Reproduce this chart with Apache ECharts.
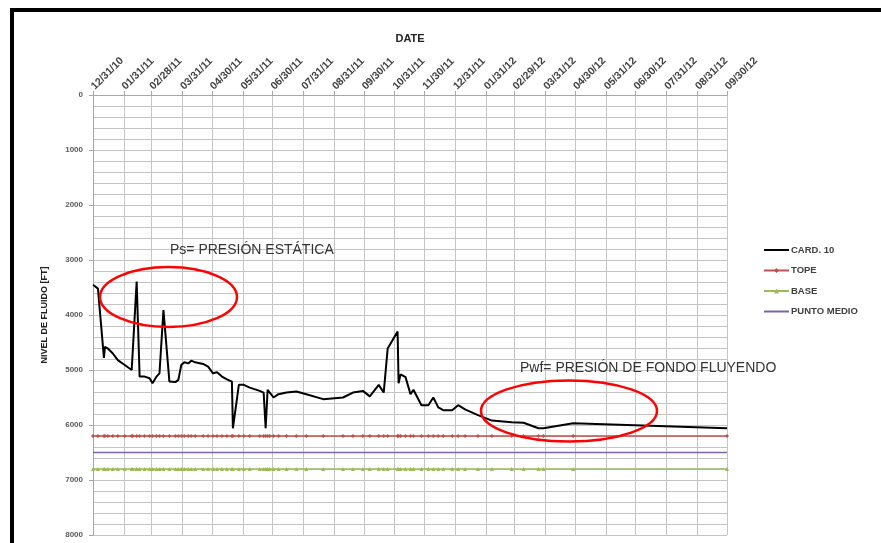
<!DOCTYPE html>
<html>
<head>
<meta charset="utf-8">
<script src="https://cdn.jsdelivr.net/npm/echarts@6/dist/echarts.min.js"></script>
<style>
html,body{margin:0;padding:0;background:#fff;}
#chart{width:881px;height:543px;}
</style>
</head>
<body>
<div id="chart"></div>
<script>
// ---- DATA ----
var dates = ['2010-12-31','2011-01-05','2011-01-11','2011-01-12','2011-01-15','2011-01-20','2011-01-25','2011-02-01','2011-02-08','2011-02-09',
  '2011-02-13','2011-02-16','2011-02-21','2011-02-26','2011-03-01','2011-03-05','2011-03-08','2011-03-12','2011-03-18','2011-03-24',
  '2011-03-27','2011-03-30','2011-04-02','2011-04-06','2011-04-09','2011-04-13','2011-04-21','2011-04-26','2011-05-01','2011-05-05',
  '2011-05-10','2011-05-15','2011-05-20','2011-05-21','2011-05-27','2011-06-01','2011-06-07','2011-06-17','2011-06-21','2011-06-23',
  '2011-06-25','2011-06-27','2011-07-01','2011-07-06','2011-07-14','2011-07-24','2011-08-03','2011-08-20','2011-09-09','2011-09-19',
  '2011-09-29','2011-10-06','2011-10-15','2011-10-20','2011-10-24','2011-11-03','2011-11-04','2011-11-06','2011-11-11','2011-11-16',
  '2011-11-19','2011-11-27','2011-12-04','2011-12-09','2011-12-14','2011-12-19','2011-12-28','2012-01-03','2012-01-10','2012-01-23',
  '2012-02-06','2012-02-26','2012-03-09','2012-03-24','2012-03-29','2012-04-28','2012-09-30'];
var card10 = [3450,3520,4780,4580,4610,4700,4820,4910,5000,5030,
  3390,5120,5120,5150,5240,5120,5060,3910,5210,5220,
  5180,4910,4860,4880,4830,4860,4890,4940,5060,5040,
  5120,5170,5210,6060,5270,5270,5320,5380,5410,6060,
  5360,5390,5500,5440,5410,5390,5440,5530,5500,5410,
  5380,5480,5270,5410,4610,4300,5240,5080,5130,5440,
  5360,5640,5640,5500,5680,5730,5730,5640,5715,5820,
  5920,5950,5960,6060,6060,5970,6060];
var topeValue = 6200;
var baseValue = 6800;
var puntoMedioValue = 6500;
var monthTicks = ['2010-12-31','2011-01-31','2011-02-28','2011-03-31','2011-04-30','2011-05-31','2011-06-30','2011-07-31',
  '2011-08-31','2011-09-30','2011-10-31','2011-11-30','2011-12-31','2012-01-31','2012-02-29','2012-03-31','2012-04-30',
  '2012-05-31','2012-06-30','2012-07-31','2012-08-31','2012-09-30'];
var seriesNames = ['CARD. 10','TOPE','BASE','PUNTO MEDIO'];
var annotations = ['Ps= PRESIÓN ESTÁTICA','Pwf= PRESIÓN DE FONDO FLUYENDO'];

// ---- BUILD ----
function ts(s){ var p = s.split('-'); return new Date(+p[0], +p[1]-1, +p[2]).getTime(); }
function pair(arr) { return dates.map(function(d,i){ return [ts(d), Array.isArray(arr) ? arr[i] : arr]; }); }
function pad(n){ return (n<10?'0':'')+n; }
function fmt(v){ var d=new Date(v); return pad(d.getMonth()+1)+'/'+pad(d.getDate())+'/'+pad(d.getFullYear()%100); }
var tickVals = monthTicks.map(ts);
var font = '"Liberation Sans", Arial, sans-serif';
var gridColor = '#c4c4c4';

var chart = echarts.init(document.getElementById('chart'));
chart.setOption({
  animation: false,
  backgroundColor: '#fff',
  grid: { left: 93, top: 95, right: 154, bottom: 8, containLabel: false },
  xAxis: {
    type: 'value', position: 'top', scale: true,
    min: tickVals[0], max: tickVals[tickVals.length-1],
    name: 'DATE', nameLocation: 'middle', nameGap: 51,
    nameTextStyle: { fontFamily: font, fontWeight: 'bold', fontSize: 11, color: '#222' },
    axisLine: { show: true, lineStyle: { color: '#a6a6a6' } },
    axisTick: { show: true, customValues: tickVals, length: 4, lineStyle: { color: '#a6a6a6' } },
    axisLabel: { customValues: tickVals, rotate: 45, formatter: fmt, fontFamily: font, fontSize: 10.5, fontWeight: 'bold', color: '#404040', margin: 7, hideOverlap: false },
    splitLine: { show: true, lineStyle: { color: gridColor, width: 1 } }
  },
  yAxis: {
    type: 'value', inverse: true, min: 0, max: 8000, interval: 1000,
    name: 'NIVEL DE FLUIDO [FT]', nameLocation: 'middle', nameGap: 44,
    nameTextStyle: { fontFamily: font, fontWeight: 'bold', fontSize: 9, color: '#222' },
    axisLine: { show: true, lineStyle: { color: '#a6a6a6' } },
    axisTick: { show: true, length: 4, lineStyle: { color: '#a6a6a6' } },
    minorTick: { show: false, splitNumber: 5 },
    axisLabel: { fontFamily: font, fontSize: 8, fontWeight: 'bold', color: '#595959', margin: 10, formatter: function(v){ return String(v); } },
    splitLine: { show: true, lineStyle: { color: gridColor } },
    minorSplitLine: { show: true, lineStyle: { color: gridColor } }
  },
  legend: {
    orient: 'vertical', left: 758, top: 240, itemWidth: 25, itemHeight: 6, itemGap: 10.5,
    data: [
      { name: seriesNames[0], itemStyle: { opacity: 0 } },
      { name: seriesNames[1] },
      { name: seriesNames[2] },
      { name: seriesNames[3], itemStyle: { opacity: 0 } }
    ],
    textStyle: { fontFamily: font, fontSize: 9.5, fontWeight: 'bold', color: '#404040', padding: [0,0,0,-3] }
  },
  series: [
    { name: seriesNames[0], type: 'line', data: pair(card10), symbol: 'none', lineStyle: { color: '#000', width: 2 }, itemStyle: { color: '#000' }, z: 5 },
    { name: seriesNames[1], type: 'line', data: pair(topeValue), symbol: 'diamond', symbolSize: 4, lineStyle: { color: '#c0504d', width: 1.5 }, itemStyle: { color: '#c0504d' } },
    { name: seriesNames[2], type: 'line', data: pair(baseValue), symbol: 'triangle', symbolSize: 4, lineStyle: { color: '#9bbb59', width: 1.5 }, itemStyle: { color: '#9bbb59' } },
    { name: seriesNames[3], type: 'line', data: [[ts(dates[0]), puntoMedioValue],[ts(dates[dates.length-1]), puntoMedioValue]], symbol: 'none', lineStyle: { color: '#8064a2', width: 1.5 }, itemStyle: { color: '#8064a2' } }
  ],
  graphic: [
    { type: 'rect', shape: { x: 12, y: 10, width: 900, height: 600 }, style: { fill: 'none', stroke: '#000', lineWidth: 4 }, z: 100 },
    { type: 'ellipse', shape: { cx: 168.5, cy: 297, rx: 68.5, ry: 30 }, style: { fill: 'none', stroke: '#ff0000', lineWidth: 2.5 }, z: 100 },
    { type: 'ellipse', shape: { cx: 569, cy: 411, rx: 88, ry: 30.5 }, style: { fill: 'none', stroke: '#ff0000', lineWidth: 2.5 }, z: 100 },
    { type: 'text', x: 170, y: 243, style: { text: annotations[0], font: '14px ' + font, fill: '#333' }, z: 100 },
    { type: 'text', x: 520, y: 361, style: { text: annotations[1], font: '14px ' + font, fill: '#333' }, z: 100 }
  ]
});
</script>
</body>
</html>
